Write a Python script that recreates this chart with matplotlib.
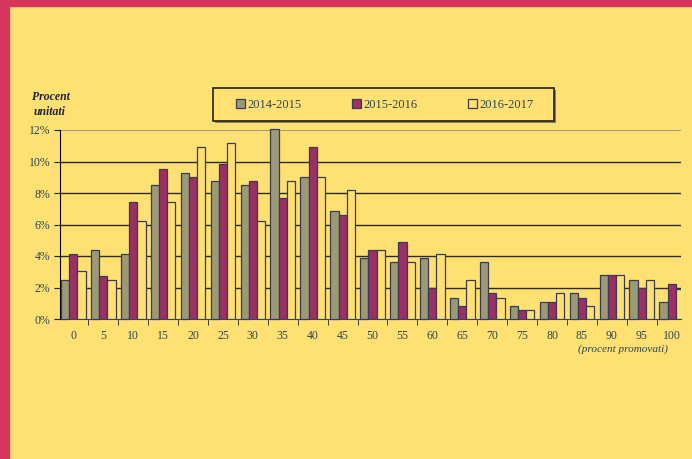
import matplotlib
matplotlib.use('Agg')
import matplotlib.pyplot as plt
from matplotlib.patches import Rectangle, Patch
import numpy as np

# data (percent of units)
categories = ['0', '5', '10', '15', '20', '25', '30', '35', '40', '45', '50',
              '55', '60', '65', '70', '75', '80', '85', '90', '95', '100']
series_names = ['2014-2015', '2015-2016', '2016-2017']
y_2014 = [2.5, 4.35, 4.15, 8.5, 9.25, 8.75, 8.5, 12.05, 9.0, 6.85, 3.85,
          3.6, 3.85, 1.35, 3.6, 0.85, 1.1, 1.65, 2.8, 2.5, 1.1]
y_2015 = [4.15, 2.75, 7.4, 9.55, 9.0, 9.85, 8.75, 7.7, 10.95, 6.6, 4.35,
          4.9, 1.95, 0.85, 1.65, 0.6, 1.1, 1.35, 2.8, 1.95, 2.2]
y_2016 = [3.05, 2.5, 6.25, 7.4, 10.95, 11.2, 6.25, 8.75, 9.0, 8.2, 4.35,
          3.6, 4.15, 2.5, 1.35, 0.6, 1.65, 0.85, 2.8, 2.5, 1.9]
y_ticks = [0, 2, 4, 6, 8, 10, 12]
y_ticklabels = ['0%', '2%', '4%', '6%', '8%', '10%', '12%']

bg = '#FEE172'
stripe = '#D6365A'
colors = ['#9C9A75', '#9B3064', bg]
edge = '#3A3A58'
txt = '#2E4452'

plt.rcParams['font.family'] = ['Liberation Serif', 'DejaVu Serif']

fig = plt.figure(figsize=(6.92, 4.59), dpi=100)
fig.patch.set_facecolor(bg)
W, H = 692, 459

# border stripes (left and top)
fig.patches.append(Rectangle((0, 0), 9 / W, 1, transform=fig.transFigure,
                             color=stripe, zorder=0))
fig.patches.append(Rectangle((0, 1 - 5.5 / H), 1, 5.5 / H,
                             transform=fig.transFigure, color=stripe, zorder=0))

ax = fig.add_axes([60 / W, 1 - 319 / H, 621 / W, 189 / H])
ax.set_facecolor(bg)

x = np.arange(len(categories))
w = 0.275
for k, vals in enumerate([y_2014, y_2015, y_2016]):
    bars = ax.bar(x + (k - 1) * w, vals, width=w, color=colors[k], edgecolor=edge,
                  linewidth=0.9, zorder=3)
    if k == 0:
        # the 35 bar pokes just above the 12% line
        for b in bars:
            b.set_clip_on(False)

ax.set_xlim(-0.446, 20.31)
ax.set_ylim(0, 12)

# gridlines
for v in y_ticks[1:-1]:
    ax.axhline(v, color='#2a2a2a', linewidth=1.0, zorder=1)
ax.axhline(12, color='#9a9a8a', linewidth=1.3, zorder=1)

ax.set_yticks(y_ticks)
ax.set_yticklabels(y_ticklabels, color=txt, fontsize=8.5)
ax.set_xticks(x)
ax.set_xticklabels(categories, color=txt, fontsize=8.5)
ax.tick_params(axis='x', length=0, pad=8)
ax.set_xticks(np.arange(0.5, 20, 1), minor=True)
ax.tick_params(axis='x', which='minor', length=4, direction='out', color='#222222')
ax.tick_params(axis='y', length=4, direction='out', color='#222222', pad=3)

for s in ['top', 'right']:
    ax.spines[s].set_visible(False)
ax.spines['left'].set_color('black')
ax.spines['bottom'].set_color('#444444')
ax.spines['left'].set_zorder(4)

# axis titles
fig.text(32 / W, 1 - 97 / H, 'Procent', fontsize=8.5, style='italic',
         weight='bold', color='#222233', va='center', ha='left')
fig.text(34 / W, 1 - 112 / H, 'unitati', fontsize=8.5, style='italic',
         weight='bold', color='#222233', va='center', ha='left')
fig.text(623 / W, 1 - 349 / H, '(procent promovati)', fontsize=8,
         style='italic', color=txt, va='center', ha='center')

# legend box with a small shadow
fig.patches.append(Rectangle((215 / W, 1 - 123 / H), 341 / W, 33 / H,
                             transform=fig.transFigure, facecolor='#8a8060',
                             edgecolor='none', zorder=1))
fig.patches.append(Rectangle((213 / W, 1 - 121 / H), 341 / W, 33 / H,
                             transform=fig.transFigure, facecolor=bg,
                             edgecolor='#222222', linewidth=1.2, zorder=2))

handles = [Patch(facecolor=colors[k], edgecolor=edge, linewidth=0.9)
           for k in range(3)]
leg = fig.legend(handles, series_names, loc='center', ncol=3,
                 bbox_to_anchor=(385 / W, 1 - 104.5 / H),
                 bbox_transform=fig.transFigure, frameon=False,
                 handlelength=0.7, handleheight=0.7, handletextpad=0.25,
                 columnspacing=4.0, borderaxespad=0, fontsize=9)
leg.set_zorder(5)
for t in leg.get_texts():
    t.set_color(txt)

fig.savefig('out.png', dpi=100, facecolor=fig.get_facecolor())
